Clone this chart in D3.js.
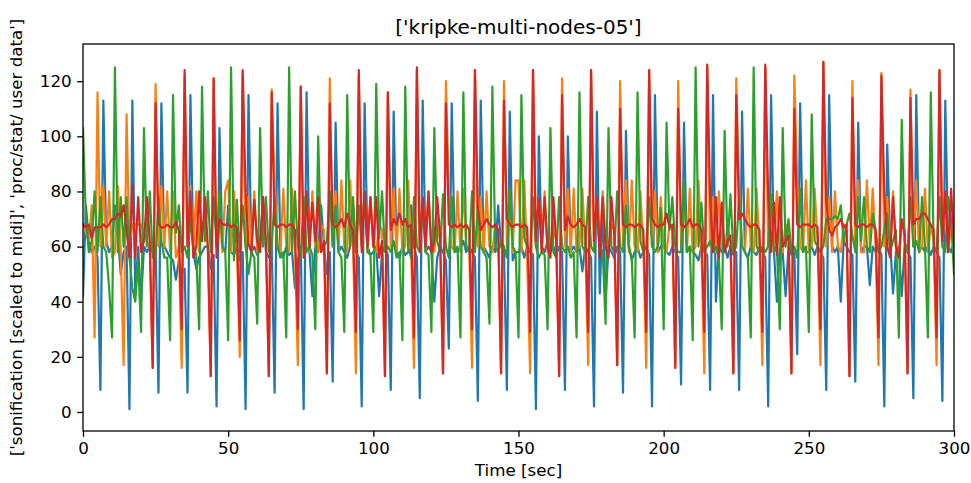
<!DOCTYPE html>
<html>
<head>
<meta charset="utf-8">
<script src="https://cdn.jsdelivr.net/npm/d3@7"></script>
<style>
  body { margin: 0; background: #fff; }
  svg text { font-family: "DejaVu Sans", sans-serif; fill: #000; }
</style>
</head>
<body>
<svg width="971" height="483"></svg>
<script>
const title = "['kripke-multi-nodes-05']";
const xLabel = 'Time [sec]';
const yLabel = "['sonification [scaled to midi]', 'proc/stat/ user data']";
const xTicks = [0, 50, 100, 150, 200, 250, 300];
const yTicks = [0, 20, 40, 60, 80, 100, 120];

// one sample per second, t = 0 .. 300
const timeSec = d3.range(0, 301);

const blue = [
  42, 75, 62, 58, 60, 56, 8, 113, 62, 58,
  60, 75, 64, 50, 58, 60, 1, 113, 43, 60,
  40, 60, 58, 60, 58, 60, 7, 112, 60, 58,
  56, 55, 48, 55, 50, 52, 7, 115, 58, 52,
  56, 58, 60, 60, 52, 57, 2, 103, 60, 58,
  75, 58, 57, 60, 55, 58, 1, 115, 58, 60,
  57, 62, 78, 58, 56, 60, 7, 112, 58, 56,
  60, 57, 58, 45, 55, 60, 1, 116, 58, 42,
  60, 58, 75, 60, 50, 58, 11, 105, 58, 60,
  58, 56, 60, 75, 58, 56, 2, 112, 60, 57,
  58, 60, 42, 58, 60, 57, 8, 109, 58, 56,
  60, 57, 58, 75, 60, 56, 5, 113, 58, 60,
  58, 40, 56, 60, 58, 55, 23, 112, 60, 58,
  60, 62, 58, 60, 58, 56, 4, 113, 60, 58,
  56, 60, 58, 75, 60, 58, 8, 109, 55, 58,
  58, 60, 56, 60, 58, 57, 1, 100, 60, 58,
  62, 58, 60, 57, 60, 58, 8, 100, 58, 60,
  58, 60, 51, 60, 58, 56, 2, 109, 43, 75,
  40, 60, 58, 56, 60, 58, 7, 102, 60, 55,
  58, 60, 56, 58, 60, 57, 2, 115, 58, 60,
  60, 58, 57, 60, 58, 56, 10, 105, 58, 60,
  58, 57, 55, 60, 58, 57, 8, 115, 40, 60,
  58, 60, 56, 60, 57, 58, 8, 109, 58, 56,
  60, 58, 57, 60, 58, 56, 2, 115, 58, 40,
  60, 58, 42, 60, 57, 58, 21, 112, 60, 58,
  58, 60, 57, 60, 58, 56, 8, 115, 60, 58,
  60, 40, 62, 60, 58, 57, 11, 105, 58, 60,
  60, 46, 60, 58, 60, 57, 2, 97, 62, 43,
  58, 60, 42, 60, 58, 56, 5, 115, 58, 60,
  58, 60, 57, 60, 58, 56, 4, 113, 60, 58,
  62
];

const orange = [
  68, 65, 62, 75, 27, 116, 60, 82, 60, 80,
  56, 58, 82, 58, 17, 108, 60, 68, 68, 68,
  68, 65, 62, 60, 16, 119, 60, 82, 60, 80,
  58, 80, 56, 60, 16, 122, 60, 82, 58, 80,
  58, 68, 68, 60, 13, 121, 60, 78, 58, 80,
  84, 58, 80, 60, 20, 123, 60, 78, 58, 80,
  58, 60, 68, 62, 13, 117, 84, 60, 58, 81,
  60, 58, 81, 60, 17, 118, 60, 78, 58, 80,
  60, 58, 68, 66, 14, 121, 60, 80, 58, 84,
  60, 58, 84, 62, 14, 122, 60, 80, 58, 78,
  60, 58, 68, 66, 13, 116, 60, 81, 58, 81,
  58, 60, 84, 60, 16, 124, 60, 78, 58, 80,
  60, 58, 68, 62, 14, 120, 81, 60, 58, 80,
  58, 81, 60, 60, 16, 124, 60, 78, 58, 80,
  60, 58, 68, 66, 14, 120, 60, 80, 58, 84,
  84, 58, 84, 55, 14, 124, 60, 78, 58, 80,
  58, 60, 68, 62, 13, 121, 60, 81, 58, 81,
  58, 60, 81, 60, 17, 124, 60, 78, 58, 80,
  60, 58, 68, 66, 17, 120, 60, 84, 58, 84,
  60, 58, 80, 60, 16, 124, 60, 80, 58, 78,
  60, 58, 68, 66, 16, 120, 60, 81, 58, 81,
  58, 60, 84, 60, 14, 125, 60, 78, 58, 80,
  60, 58, 68, 62, 14, 121, 81, 60, 58, 81,
  60, 58, 81, 60, 17, 125, 60, 78, 58, 80,
  60, 58, 68, 66, 14, 122, 84, 60, 58, 84,
  58, 60, 81, 62, 17, 127, 60, 78, 58, 80,
  60, 58, 68, 66, 13, 120, 60, 84, 58, 58,
  84, 60, 81, 60, 17, 123, 60, 78, 58, 80,
  60, 58, 68, 66, 14, 117, 60, 84, 58, 60,
  81, 58, 68, 62, 17, 124, 60, 78, 58, 68,
  70
];

const green = [
  103, 70, 58, 62, 80, 58, 78, 60, 58, 45,
  27, 125, 58, 78, 60, 78, 56, 45, 40, 55,
  29, 103, 60, 80, 56, 56, 78, 62, 56, 56,
  26, 115, 65, 75, 58, 60, 56, 70, 60, 57,
  30, 118, 62, 80, 58, 78, 60, 80, 60, 58,
  26, 125, 55, 77, 58, 75, 60, 50, 58, 56,
  32, 103, 60, 78, 58, 60, 78, 60, 56, 58,
  27, 125, 58, 80, 60, 56, 78, 58, 60, 57,
  30, 100, 58, 60, 62, 80, 60, 75, 58, 56,
  29, 115, 60, 78, 58, 75, 60, 80, 58, 57,
  29, 119, 63, 80, 58, 60, 58, 62, 56, 58,
  26, 118, 60, 56, 78, 60, 58, 75, 58, 57,
  29, 103, 62, 58, 79, 60, 56, 78, 58, 60,
  27, 116, 60, 58, 80, 58, 75, 60, 58, 56,
  32, 118, 60, 58, 62, 60, 56, 81, 60, 58,
  27, 115, 63, 60, 58, 78, 60, 56, 58, 57,
  30, 103, 58, 56, 78, 60, 58, 60, 56, 58,
  27, 116, 60, 58, 78, 60, 58, 76, 60, 58,
  32, 103, 60, 58, 80, 60, 58, 75, 60, 56,
  27, 116, 62, 58, 60, 78, 60, 58, 60, 74,
  30, 105, 66, 78, 60, 58, 58, 84, 58, 60,
  26, 125, 60, 76, 58, 60, 62, 58, 60, 56,
  30, 102, 60, 79, 58, 60, 78, 60, 58, 56,
  27, 125, 60, 58, 60, 58, 60, 79, 58, 60,
  30, 103, 60, 70, 58, 60, 56, 81, 58, 60,
  29, 108, 62, 60, 58, 60, 70, 70, 70, 71,
  70, 75, 62, 68, 72, 64, 58, 78, 62, 78,
  60, 58, 72, 66, 58, 60, 66, 72, 58, 62,
  66, 27, 106, 62, 58, 78, 60, 62, 58, 78,
  60, 27, 116, 60, 58, 78, 60, 58, 78, 70,
  50
];

const red = [
  68, 67, 68, 63, 67, 67, 67, 68, 67, 68,
  70, 70, 72, 71, 75, 66, 56, 82, 56, 78,
  58, 62, 78, 62, 16, 112, 68, 67, 67, 68,
  67, 67, 69, 66, 30, 124, 60, 80, 56, 60,
  80, 62, 78, 60, 13, 121, 56, 70, 68, 68,
  68, 67, 68, 67, 26, 124, 80, 61, 58, 77,
  62, 58, 78, 62, 13, 116, 68, 67, 68, 68,
  67, 68, 68, 66, 30, 118, 56, 80, 60, 76,
  62, 78, 58, 62, 14, 112, 68, 67, 68, 70,
  67, 72, 68, 66, 29, 124, 58, 80, 60, 78,
  60, 78, 56, 62, 13, 116, 66, 70, 68, 72,
  68, 70, 67, 68, 27, 125, 58, 78, 60, 80,
  58, 62, 78, 64, 14, 112, 68, 67, 68, 67,
  68, 67, 68, 66, 30, 124, 74, 66, 68, 70,
  68, 67, 68, 66, 14, 113, 70, 68, 67, 68,
  68, 67, 68, 67, 29, 124, 62, 78, 58, 78,
  60, 56, 78, 62, 13, 115, 66, 71, 68, 67,
  68, 70, 68, 67, 29, 124, 62, 78, 56, 78,
  60, 56, 78, 64, 17, 110, 68, 67, 68, 68,
  67, 68, 68, 66, 29, 124, 70, 68, 67, 68,
  68, 72, 67, 68, 16, 110, 68, 67, 68, 70,
  67, 68, 68, 66, 29, 126, 78, 58, 78, 56,
  76, 58, 62, 64, 14, 115, 70, 72, 70, 68,
  67, 68, 68, 66, 29, 126, 78, 58, 76, 57,
  78, 60, 62, 64, 14, 110, 68, 67, 68, 68,
  68, 67, 68, 67, 30, 127, 76, 66, 64, 67,
  68, 70, 67, 68, 13, 114, 68, 67, 68, 68,
  67, 68, 68, 66, 27, 122, 80, 60, 56, 78,
  60, 56, 70, 64, 14, 114, 68, 70, 70, 72,
  72, 70, 68, 66, 27, 124, 62, 80, 58, 81,
  62
];

const seriesList = [blue, orange, green, red];
const colors = ['#1f77b4', '#ff7f0e', '#2ca02c', '#d62728'];

const margin = {top: 44, right: 17, bottom: 52, left: 83};
const width = 971, height = 483;

const svg = d3.select('svg');

const x = d3.scaleLinear()
    .domain([0, 300])
    .range([margin.left, width - margin.right]);
const y = d3.scaleLinear()
    .domain([-6.9, 133.5])
    .range([height - margin.bottom, margin.top]);

const line = d3.line()
    .x((d, i) => x(timeSec[i]))
    .y(d => y(d));

svg.append('defs').append('clipPath')
    .attr('id', 'plot-clip')
    .append('rect')
    .attr('x', margin.left)
    .attr('y', margin.top)
    .attr('width', x.range()[1] - margin.left)
    .attr('height', y.range()[0] - margin.top);

svg.append('g')
    .attr('clip-path', 'url(#plot-clip)')
    .selectAll('path')
    .data(seriesList)
    .enter()
    .append('path')
    .attr('d', d => line(d))
    .style('fill', 'none')
    .style('stroke', (d, i) => colors[i])
    .style('stroke-width', '2.2px')
    .style('stroke-linejoin', 'round')
    .style('stroke-linecap', 'square');

const xAxis = svg.append('g')
    .attr('transform', `translate(0, ${y.range()[0]})`)
    .call(d3.axisBottom(x).tickValues(xTicks).tickSize(5.8).tickPadding(5.5));
const yAxis = svg.append('g')
    .attr('transform', `translate(${margin.left}, 0)`)
    .call(d3.axisLeft(y).tickValues(yTicks).tickSize(5.8).tickPadding(5.5));

[xAxis, yAxis].forEach(ax => {
  ax.select('.domain').remove();
  ax.selectAll('line').style('stroke', '#000').style('stroke-width', '1.3px');
  ax.selectAll('text')
      .style('font-family', '"DejaVu Sans", sans-serif')
      .style('font-size', '16.7px')
      .style('fill', '#000');
});

// frame
svg.append('rect')
    .attr('x', margin.left)
    .attr('y', margin.top)
    .attr('width', x.range()[1] - margin.left)
    .attr('height', y.range()[0] - margin.top)
    .style('fill', 'none')
    .style('stroke', '#000')
    .style('stroke-width', '1.3px');

svg.append('text')
    .attr('x', (x.range()[0] + x.range()[1]) / 2)
    .attr('y', 34)
    .attr('text-anchor', 'middle')
    .style('font-size', '20px')
    .text(title);

svg.append('text')
    .attr('x', (x.range()[0] + x.range()[1]) / 2)
    .attr('y', 476)
    .attr('text-anchor', 'middle')
    .style('font-size', '16.7px')
    .text(xLabel);

svg.append('text')
    .attr('transform', `translate(22, ${(y.range()[0] + y.range()[1]) / 2}) rotate(-90)`)
    .attr('text-anchor', 'middle')
    .style('font-size', '16.7px')
    .text(yLabel);
</script>
</body>
</html>
